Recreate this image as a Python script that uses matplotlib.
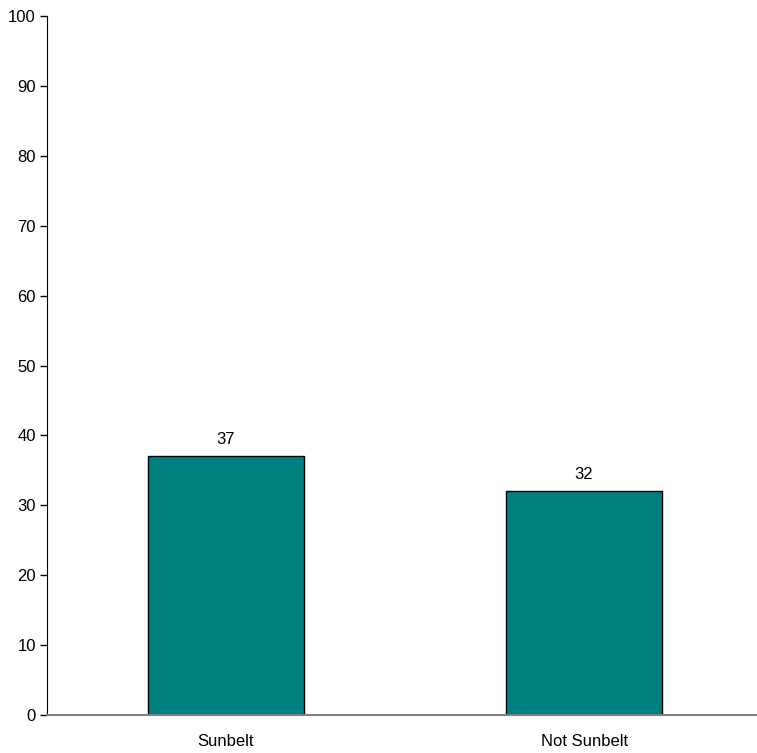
import matplotlib
matplotlib.use("Agg")
import matplotlib.pyplot as plt

categories = ["Sunbelt", "Not Sunbelt"]
values = [37, 32]
y_ticks = list(range(0, 101, 10))

plt.rcParams["font.family"] = ["Liberation Sans", "DejaVu Sans"]

fig = plt.figure(figsize=(7.57, 7.53), dpi=100)
ax = fig.add_axes([47 / 757, 1 - 715 / 753, 710 / 757, (715 - 16) / 753])

x = list(range(len(categories)))
bars = ax.bar(x, values, width=0.436, color="#008080", edgecolor="black", linewidth=1.0, zorder=2)
for b, v in zip(bars, values):
    ax.text(b.get_x() + b.get_width() / 2, v + 1.3, f"{v}", ha="center", va="bottom", fontsize=12)

ax.set_xlim(-0.5, 1.483)
ax.set_ylim(0, 100)
ax.set_yticks(y_ticks)
ax.set_xticks(x)
ax.set_xticklabels(categories, fontsize=12)
ax.tick_params(axis="y", labelsize=12, length=5, width=1, direction="out", pad=3)
ax.tick_params(axis="x", length=0, pad=14)

ax.spines["top"].set_visible(False)
ax.spines["right"].set_visible(False)
ax.spines["left"].set_color("black")
ax.spines["bottom"].set_color("#808080")
ax.spines["bottom"].set_linewidth(1.5)

fig.savefig("out.png", dpi=100)
